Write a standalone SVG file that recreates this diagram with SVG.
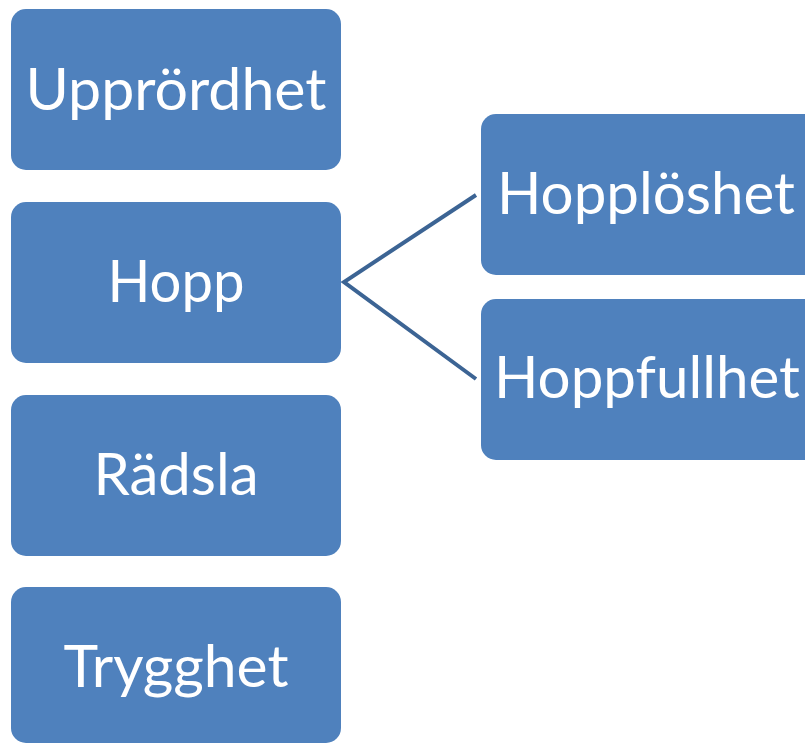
<svg xmlns="http://www.w3.org/2000/svg" width="805" height="745" viewBox="0 0 805 745">
<style>
.box{fill:#4F81BD;}
.lbl{fill:#FFFFFF;font-family:Lato,"Open Sans","Liberation Sans",sans-serif;font-size:58px;text-anchor:middle;}
.conn{stroke:#3C6494;stroke-width:4;fill:none;}
</style>
<rect width="805" height="745" fill="#FFFFFF"/>
<g id="connectors">
<polyline class="conn" points="476,195 344,282 476,379"/>
</g>
<g id="upprordhet">
<rect class="box" x="11" y="9" width="330" height="161" rx="15"/>
<text class="lbl" x="176" y="110" textLength="301" lengthAdjust="spacingAndGlyphs">Upprördhet</text>
</g>
<g id="hopp">
<rect class="box" x="11" y="202" width="330" height="161" rx="15"/>
<text class="lbl" x="176" y="302" textLength="137" lengthAdjust="spacingAndGlyphs">Hopp</text>
</g>
<g id="radsla">
<rect class="box" x="11" y="395" width="330" height="161" rx="15"/>
<text class="lbl" x="176" y="495" textLength="165" lengthAdjust="spacingAndGlyphs">Rädsla</text>
</g>
<g id="trygghet">
<rect class="box" x="11" y="587" width="330" height="156" rx="15"/>
<text class="lbl" x="176" y="687" textLength="225" lengthAdjust="spacingAndGlyphs">Trygghet</text>
</g>
<g id="hopploshet">
<rect class="box" x="481" y="114" width="340" height="161" rx="15"/>
<text class="lbl" x="646" y="214" textLength="298" lengthAdjust="spacingAndGlyphs">Hopplöshet</text>
</g>
<g id="hoppfullhet">
<rect class="box" x="481" y="299" width="340" height="161" rx="15"/>
<text class="lbl" x="647" y="398" textLength="306" lengthAdjust="spacingAndGlyphs">Hoppfullhet</text>
</g>
</svg>
